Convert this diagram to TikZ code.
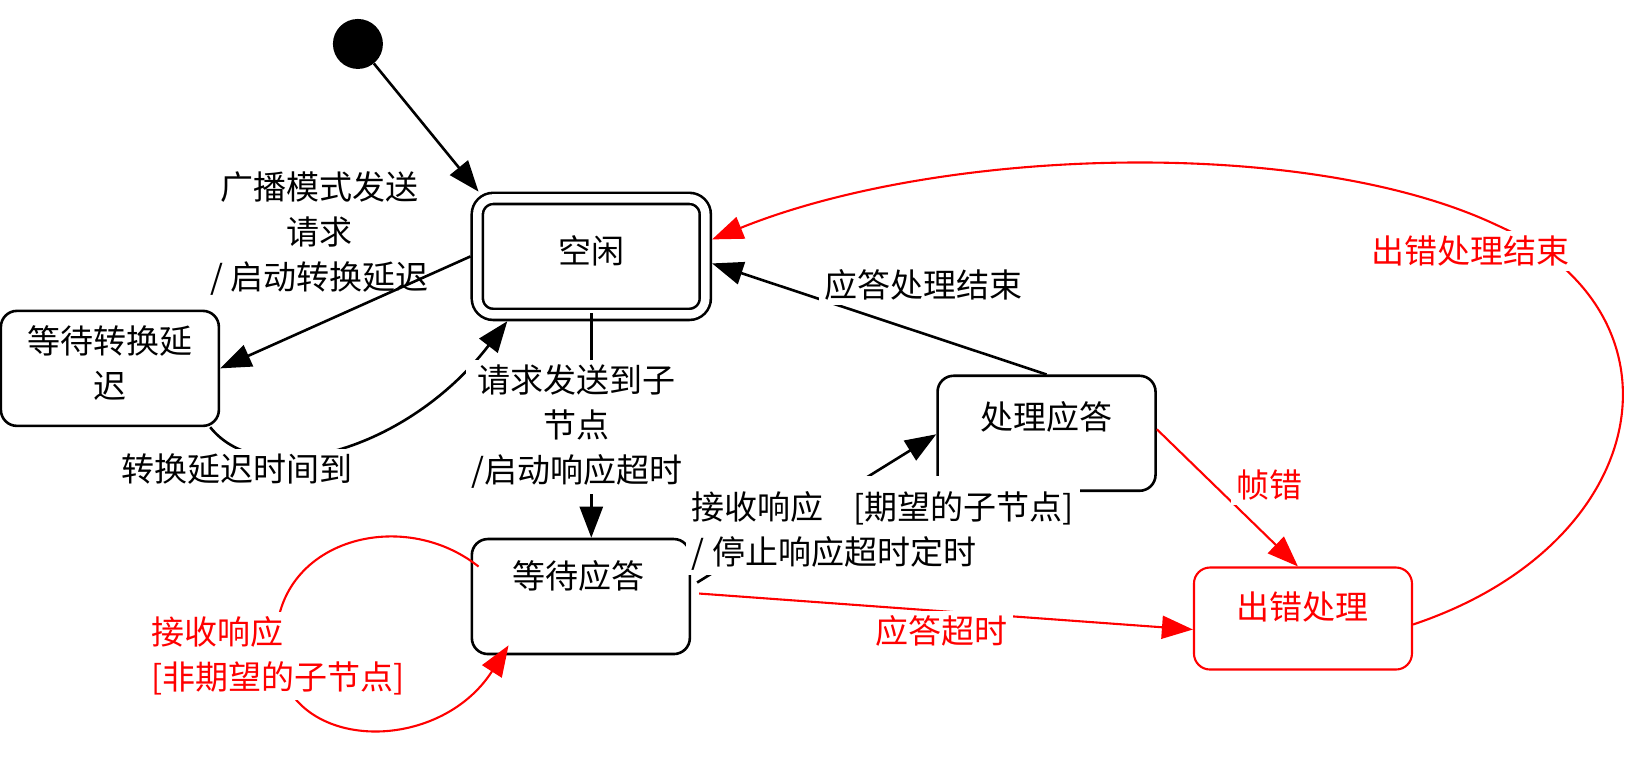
\documentclass[tikz,border=0pt]{standalone}
\usepackage{fontspec}
\newfontfamily\cjk{Noto Sans CJK SC}
\usetikzlibrary{arrows.meta,calc}
\begin{document}
\begin{tikzpicture}[x=1.0466pt,y=-1.0466pt,
  box/.style={draw, line width=2.6pt, rounded corners=16pt, minimum width=218pt, minimum height=115pt, inner sep=0pt, fill=white},
  txt/.style={font=\cjk\fontsize{33}{45}\selectfont, align=center, inner sep=5pt},
  lbl/.style={txt, fill=white},
  arr/.style={line width=2.6pt, -{Triangle[length=31pt,width=23pt]}},
  rarr/.style={line width=2.1pt, draw=red, -{Triangle[length=31pt,width=23pt]}}]
\useasboundingbox (0,0) rectangle (1568,725);
% states
\node[circle, fill=black, minimum size=50pt, inner sep=0pt] (init) at (342,42) {};
\node[box, double, double distance=8.5pt, outer sep=6.8pt, minimum width=228pt, minimum height=116pt] (idle) at (565,245) {};
\node[txt] (idlet) at (565,240) {空闲};
\node[box] (wdelay) at (105,352) {};
\node[txt] (wdelayt) at (105,347) {等待转换延\\迟};
\node[box] (wresp) at (555,570) {};
\node[txt] (wrespt) at (553,550) {等待应答};
\node[box] (proc) at (1000,414) {};
\node[txt] (proct) at (1000,398) {处理应答};
\node[box, draw=red, line width=2.1pt, minimum height=102pt] (err) at (1245,591) {};
\node[txt, text=red] (errt) at (1245,580) {出错处理};
% black transitions
\draw[arr] (init) -- ([xshift=8pt]idle.north west);
\draw[arr] (idle.west) -- (wdelay.east);
\draw[arr] ([xshift=-10pt]wdelay.south east) .. controls (250,470) and (390,430) .. ([xshift=-84pt]idle.south);
\draw[arr] ([yshift=8pt]idle.south) -- (wresp.north -| idle.south);
\draw[arr] ([xshift=6pt,yshift=14pt]wresp.east) -- ([yshift=-1pt]proc.west);
\draw[arr] (proc.north) -- ([yshift=-7pt]idle.east);
% red transitions
\draw[rarr] ([yshift=-6pt]err.east) .. controls (1580,520) and (1620,300) .. (1430,215) .. controls (1250,130) and (900,140) .. ([yshift=17pt]idle.east);
\draw[rarr] ([yshift=4pt]proc.east) -- ([xshift=-5pt]err.north);
\draw[rarr] ([xshift=8pt,yshift=3pt]wresp.east) -- ([yshift=-11pt]err.west);
\draw[rarr] ([xshift=8pt,yshift=30pt]wresp.west) .. controls (380,480) and (250,520) .. (265,630) .. controls (280,720) and (420,720) .. ([xshift=38pt,yshift=10pt]wresp.south west);
% labels
\node[txt] (l1) at (305,223) {广播模式发送\\请求\\/ 启动转换延迟};
\node[lbl] (l2) at (226,448) {转换延迟时间到};
\node[lbl] (l3) at (551,408) {请求发送到子\\节点\\/启动响应超时};
\node[lbl] (l4) at (882,272) {应答处理结束};
\node[lbl, align=left, anchor=north west, inner xsep=6pt] (l5) at (655,455) {\rule{0pt}{38pt}接收响应\hspace{0.9em}{[}期望的子节点{]}\\/ 停止响应超时定时};
\node[lbl, text=red] (l6) at (1405,240) {出错处理结束};
\node[lbl, text=red] (l7) at (1213,463) {帧错};
\node[lbl, text=red] (l8) at (900,603) {应答超时};
\node[lbl, text=red, align=left, anchor=west] (l9) at (140,627) {接收响应\\{[}非期望的子节点{]}};
\end{tikzpicture}
\end{document}
